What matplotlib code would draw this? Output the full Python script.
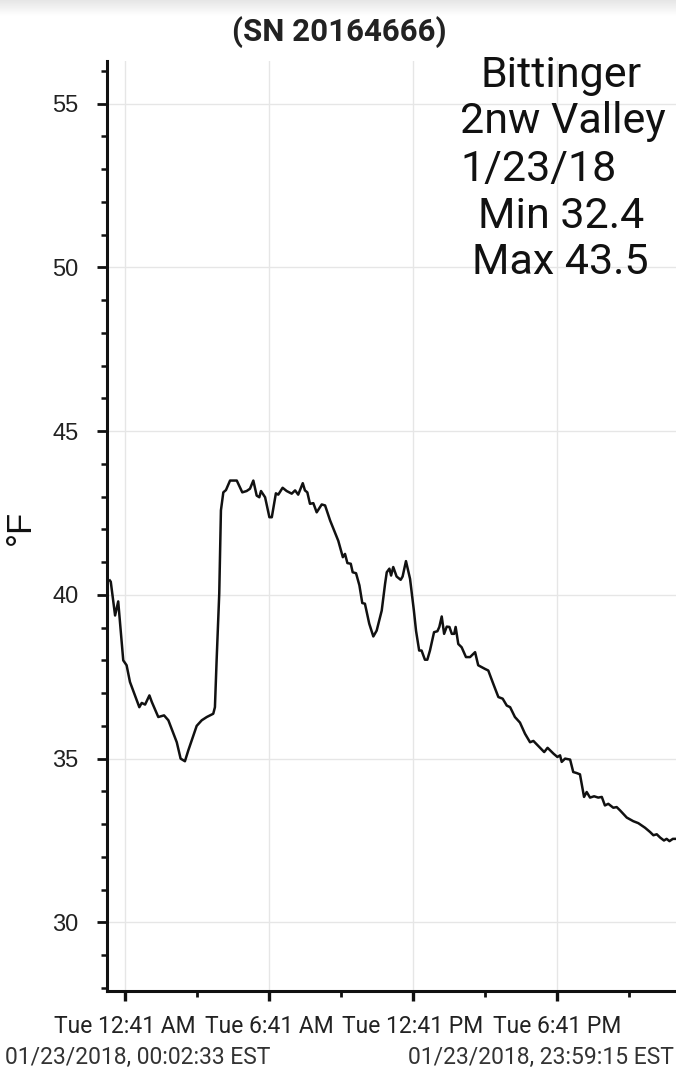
import matplotlib
matplotlib.use("Agg")
import matplotlib.pyplot as plt
import numpy as np
from matplotlib.ticker import MultipleLocator, FixedLocator

# ---------------- data ----------------
hours = [0.05, 0.09, 0.27, 0.40, 0.61, 0.75, 0.89, 1.28, 1.38, 1.52, 1.70, 1.80, 2.07, 2.31,
         2.49, 2.84, 3.00, 3.18, 3.32, 3.67, 3.88, 4.09, 4.36, 4.43, 4.50, 4.61, 4.68, 4.78,
         4.89, 5.06, 5.34, 5.57, 5.75, 5.89, 6.03, 6.17, 6.28, 6.35, 6.52, 6.70, 6.80, 6.97,
         7.07, 7.25, 7.42, 7.63, 7.77, 7.90, 8.09, 8.18, 8.28, 8.39, 8.53, 8.67, 8.88, 9.02,
         9.23, 9.57, 9.76, 9.85, 9.95, 10.09, 10.17, 10.31, 10.45, 10.57, 10.68, 10.86, 11.03,
         11.17, 11.38, 11.52, 11.59, 11.70, 11.77, 11.86, 12.00, 12.17, 12.25, 12.39, 12.56,
         12.72, 12.81, 12.94, 13.04, 13.18, 13.28, 13.39, 13.56, 13.70, 13.78, 13.88, 13.98,
         14.09, 14.20, 14.30, 14.40, 14.46, 14.57, 14.71, 14.89, 15.06, 15.27, 15.40, 15.68,
         15.82, 16.03, 16.24, 16.42, 16.59, 16.73, 16.93, 17.14, 17.35, 17.56, 17.70, 17.91,
         18.15, 18.29, 18.54, 18.70, 18.81, 18.88, 19.02, 19.23, 19.36, 19.50, 19.64, 19.81,
         19.92, 20.06, 20.23, 20.40, 20.55, 20.68, 20.82, 21.03, 21.17, 21.31, 21.59, 21.86,
         22.07, 22.35, 22.56, 22.70, 22.84, 22.98, 23.14, 23.25, 23.37, 23.51, 23.64, 23.99]
temps_f = [40.44, 40.40, 39.37, 39.80, 38.00, 37.85, 37.34, 36.57, 36.70, 36.65, 36.93, 36.73,
           36.27, 36.32, 36.17, 35.50, 35.00, 34.92, 35.25, 36.00, 36.17, 36.27, 36.37, 36.57,
           37.99, 40.04, 42.58, 43.13, 43.20, 43.49, 43.49, 43.13, 43.17, 43.24, 43.49, 43.03,
           42.98, 43.17, 42.98, 42.37, 42.37, 43.10, 43.06, 43.27, 43.17, 43.09, 43.19, 43.06,
           43.41, 43.19, 43.13, 42.78, 42.80, 42.52, 42.76, 42.73, 42.27, 41.65, 41.15, 41.25,
           40.97, 40.95, 40.69, 40.66, 40.29, 39.75, 39.73, 39.12, 38.73, 38.91, 39.52, 40.34,
           40.69, 40.80, 40.59, 40.85, 40.56, 40.46, 40.56, 41.03, 40.49, 39.52, 38.90, 38.30,
           38.30, 38.02, 38.02, 38.30, 38.86, 38.89, 39.02, 39.34, 38.81, 39.03, 39.02, 38.81,
           38.81, 39.02, 38.50, 38.40, 38.10, 38.10, 38.25, 37.85, 37.74, 37.69, 37.28, 36.88,
           36.83, 36.62, 36.57, 36.27, 36.10, 35.76, 35.50, 35.54, 35.38, 35.20, 35.33, 35.15,
           35.05, 35.10, 34.90, 35.00, 34.97, 34.59, 34.56, 34.52, 33.83, 33.98, 33.81, 33.85,
           33.81, 33.83, 33.57, 33.62, 33.50, 33.52, 33.42, 33.20, 33.09, 33.03, 32.89, 32.76,
           32.66, 32.69, 32.59, 32.50, 32.55, 32.48, 32.55, 32.55, 32.55]

x_tick_hours = [0.683, 6.683, 12.683, 18.683]
x_tick_labels = ["Tue 12:41 AM", "Tue 6:41 AM", "Tue 12:41 PM", "Tue 6:41 PM"]
y_ticks = [30, 35, 40, 45, 50, 55]

title = "(SN 20164666)"
y_label = "°F"
start_label = "01/23/2018, 00:02:33 EST"
end_label = "01/23/2018, 23:59:15 EST"
note_lines = ["Bittinger", "2nw Valley", "1/23/18", "Min 32.4", "Max 43.5"]

# ---------------- figure ----------------
W, H = 676, 1082
fig = plt.figure(figsize=(W / 100, H / 100), dpi=100)
fig.patch.set_facecolor("white")

# faint top shadow band
sh = fig.add_axes([0, 1 - 16 / H, 1, 16 / H])
grad = np.linspace(0.90, 1.0, 50).reshape(-1, 1)
sh.imshow(np.repeat(grad, 2, axis=1), cmap="gray", vmin=0, vmax=1, aspect="auto",
          extent=[0, 1, 0, 1])
sh.axis("off")

left_px, right_px = 107, 684.6
bottom_px, top_px = 990.5, 61
ax = fig.add_axes([left_px / W, 1 - bottom_px / H, (right_px - left_px) / W,
                   (bottom_px - top_px) / H])

ax.plot(hours, temps_f, color="#111111", lw=1.8, solid_joinstyle="round")

ax.set_xlim(-0.067, 24.0)
ax.set_ylim(27.92, 56.3)

ax.xaxis.set_major_locator(FixedLocator(x_tick_hours))
ax.xaxis.set_minor_locator(FixedLocator([h + 3 for h in x_tick_hours]))
ax.set_xticklabels(x_tick_labels, fontsize=16.5, family="Roboto", color="#222222")
ax.yaxis.set_major_locator(FixedLocator(y_ticks))
ax.yaxis.set_minor_locator(MultipleLocator(1))
ax.set_yticklabels([str(v) for v in y_ticks], fontsize=17, family="Liberation Sans",
                   color="#222222")

ax.grid(True, which="major", color="#e6e6e6", lw=1.0)
ax.set_axisbelow(True)

for s in ["top", "right"]:
    ax.spines[s].set_visible(False)
for s in ["left", "bottom"]:
    ax.spines[s].set_linewidth(2.2)
    ax.spines[s].set_color("#111111")

ax.tick_params(axis="y", which="major", length=7.5, width=2.0, color="#111111", pad=13)
ax.tick_params(axis="y", which="minor", length=4, width=1.8, color="#111111")
ax.tick_params(axis="x", which="major", length=7.5, width=2.4, color="#111111", pad=10)
ax.tick_params(axis="x", which="minor", length=4, width=2.0, color="#111111")

fig.text(20 / W, 1 - 527 / H, y_label, ha="center", va="center", rotation=90,
         fontsize=25, family="Liberation Sans", color="#111111")

fig.text(339 / W, 1 - 32 / H, title, ha="center", va="center", fontsize=22.5,
         fontweight="bold", family="Roboto", color="#222222")

fig.text(5 / W, 1 - 1057 / H, start_label, ha="left", va="center", fontsize=16.5,
         family="Roboto", color="#333333")
fig.text(674 / W, 1 - 1057 / H, end_label, ha="right", va="center", fontsize=16.5,
         family="Roboto", color="#333333")

note_x = [480, 460, 460, 478, 472]
note_y = [75, 122, 170, 216, 263]
for t, xp, yp in zip(note_lines, note_x, note_y):
    fig.text(xp / W, 1 - yp / H, t, ha="left", va="center", fontsize=31,
             family="Roboto", color="#111111")

fig.savefig("out.png", dpi=100)
